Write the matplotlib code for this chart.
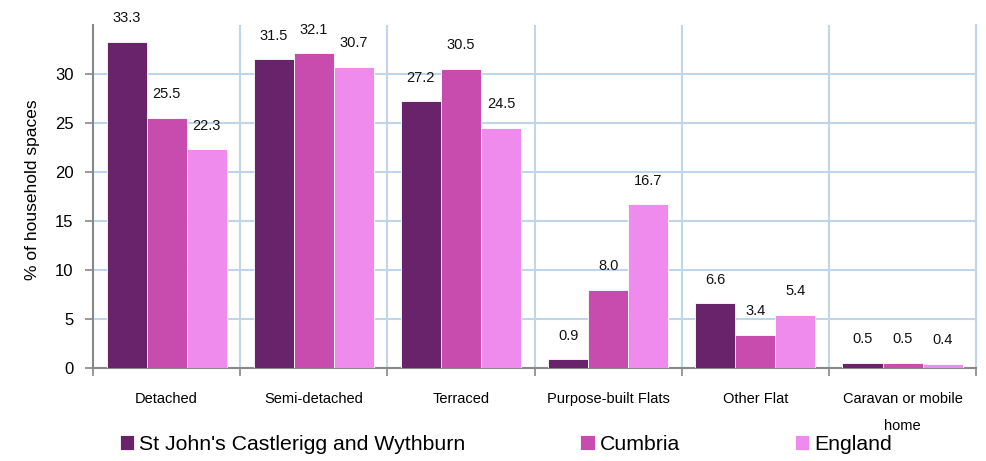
import matplotlib
matplotlib.use("Agg")
import matplotlib.pyplot as plt
import numpy as np

categories = ["Detached", "Semi-detached", "Terraced", "Purpose-built Flats",
              "Other Flat", "Caravan or mobile\nhome"]
series_names = ["St John's Castlerigg and Wythburn", "Cumbria", "England"]
st_johns = [33.3, 31.5, 27.2, 0.9, 6.6, 0.5]
cumbria = [25.5, 32.1, 30.5, 8.0, 3.4, 0.5]
england = [22.3, 30.7, 24.5, 16.7, 5.4, 0.4]
colors = ["#68236A", "#C84BAE", "#F08BEE"]

plt.rcParams['font.family'] = ['Liberation Sans', 'DejaVu Sans']

fig = plt.figure(figsize=(9.87, 4.61), dpi=100)
ax = fig.add_axes([0.0942, 0.2017, 0.8948, 0.7441])

n = len(categories)
x = np.arange(n)
bw = 0.272
data = [st_johns, cumbria, england]
handles = []
for i, (vals, col) in enumerate(zip(data, colors)):
    pos = x + (i - 1) * bw
    b = ax.bar(pos, vals, width=bw, color=col, edgecolor='white', linewidth=0.6, zorder=3)
    handles.append(b)
    for p, v in zip(pos, vals):
        ax.annotate(f"{v:.1f}", (p, v), xytext=(0, 12), textcoords='offset points',
                    ha='center', va='bottom', fontsize=10.5, color='#111111')

ax.set_xlim(-0.5, n - 0.5)
ax.set_ylim(0, 35)
ax.set_yticks([0, 5, 10, 15, 20, 25, 30])
ax.tick_params(axis='y', labelsize=12, length=6, color='#888888', width=1.2,
               direction='out', pad=8)

ax.set_xticks(np.arange(n + 1) - 0.5, minor=False)
ax.set_xticklabels([])
ax.set_xticks(x, minor=True)
ax.set_xticklabels(categories, minor=True, fontsize=10.5, linespacing=2.25)
ax.tick_params(axis='x', which='major', length=6, color='#888888', width=1.2, direction='out')
ax.tick_params(axis='x', which='minor', length=0, pad=17)

ax.grid(True, axis='y', color='#C0D4EA', linewidth=1.5, zorder=0)
ax.grid(True, axis='x', which='major', color='#C0D4EA', linewidth=1.5, zorder=0)
ax.spines['top'].set_visible(False)
ax.spines['right'].set_color('#C0D4EA')
ax.spines['right'].set_linewidth(1.5)
ax.spines['left'].set_color('#888888')
ax.spines['left'].set_linewidth(1.5)
ax.spines['bottom'].set_color('#888888')
ax.spines['bottom'].set_linewidth(1.5)

ax.set_ylabel("% of household spaces", fontsize=12.5)
ax.yaxis.set_label_coords(-0.060, 0.52)

fig.legend(handles, series_names, loc='lower left', bbox_to_anchor=(0.102, -0.026),
           ncol=3, frameon=False, fontsize=15.3, handlelength=0.67, handleheight=0.67,
           handletextpad=0.25, columnspacing=5.4)

fig.savefig("out.png", dpi=100)
